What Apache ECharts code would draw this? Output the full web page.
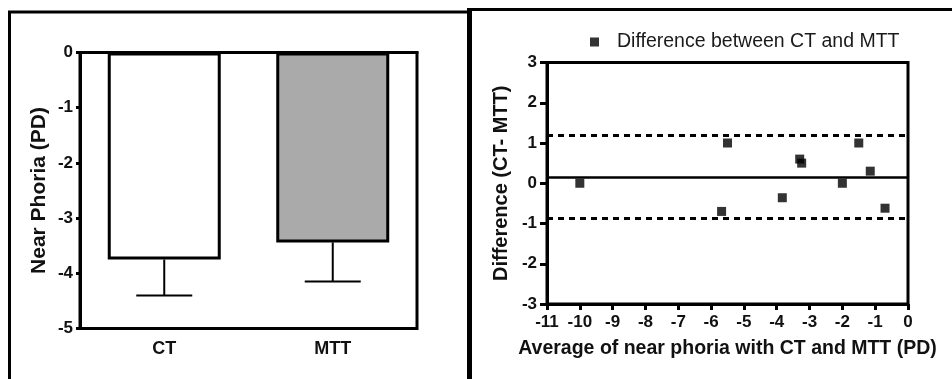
<!DOCTYPE html>
<html>
<head>
<meta charset="utf-8">
<style>
  html, body { margin: 0; padding: 0; background: #fff; }
  #chart { width: 952px; height: 379px; }
</style>
<script src="https://cdn.jsdelivr.net/npm/echarts@6/dist/echarts.min.js"></script>
</head>
<body>
<div id="chart"></div>
<script>
// Near phoria by method (mean ± SD)
var methods = ['CT', 'MTT'];
var meanPhoria = [-3.75, -3.44];
var sdPhoria = [0.65, 0.71];

// Bland–Altman: average of the two methods vs. their difference
var avgPhoria = [-10.0, -5.5, -5.68, -3.83, -3.3, -3.24, -2.0, -1.5, -1.15, -0.7];
var diffPhoria = [0.0, 1.0, -0.7, -0.36, 0.6, 0.5, 0.0, 1.0, 0.3, -0.62];
var biasMean = 0.16;
var limitUpper = 1.20;
var limitLower = -0.88;

var xTicksDiff = { min: -11, max: 0, interval: 1 };
var yTicksDiff = { min: -3, max: 3, interval: 1 };
var yTicksPhoria = { min: -5, max: 0, interval: 1 };

var legendName = 'Difference between CT and MTT';

var FONT = '"Liberation Sans", Arial, sans-serif';
var INK = '#000';

var scatterData = avgPhoria.map(function (x, i) { return [x, diffPhoria[i]]; });
var errorData = methods.map(function (m, i) { return [i, meanPhoria[i], meanPhoria[i] - sdPhoria[i]]; });

var tickLabel = { color: '#111', fontFamily: FONT, fontWeight: 'bold', fontSize: 17 };

var chart = echarts.init(document.getElementById('chart'), null, { renderer: 'canvas' });

chart.setOption({
  animation: false,
  backgroundColor: '#fff',
  textStyle: { fontFamily: FONT },
  legend: {
    data: [legendName],
    left: 585,
    top: 27,
    itemWidth: 35,
    itemHeight: 9,
    icon: 'path://M0,0H1V1H0Z',
    symbolKeepAspect: true,
    textStyle: { fontFamily: FONT, fontSize: 19.5, color: '#1a1a1a' },
    selectedMode: false
  },
  grid: [
    { left: 80, top: 52.5, right: 535, bottom: 50.5, show: true, borderColor: INK, borderWidth: 3, backgroundColor: 'transparent' },
    { left: 547, top: 62.5, right: 44, bottom: 75, show: true, borderColor: INK, borderWidth: 3, backgroundColor: 'transparent' }
  ],
  xAxis: [
    {
      gridIndex: 0,
      type: 'category',
      data: methods,
      axisLine: { lineStyle: { color: INK, width: 3 } },
      axisTick: { alignWithLabel: true, length: 9, lineStyle: { color: INK, width: 3 } },
      axisLabel: Object.assign({}, tickLabel, { fontSize: 18, margin: 12 }),
      splitLine: { show: false }
    },
    {
      gridIndex: 1,
      type: 'value',
      min: xTicksDiff.min, max: xTicksDiff.max, interval: xTicksDiff.interval,
      name: 'Average of near phoria with CT and MTT (PD)',
      nameLocation: 'middle',
      nameGap: 35,
      nameTextStyle: { color: '#111', fontFamily: FONT, fontWeight: 'bold', fontSize: 19.5 },
      axisLine: { onZero: false, lineStyle: { color: INK, width: 3 } },
      axisTick: { length: 6, lineStyle: { color: INK, width: 3 } },
      axisLabel: Object.assign({}, tickLabel, { margin: 10 }),
      splitLine: { show: false }
    }
  ],
  yAxis: [
    {
      gridIndex: 0,
      type: 'value',
      min: yTicksPhoria.min, max: yTicksPhoria.max, interval: yTicksPhoria.interval,
      name: 'Near Phoria (PD)',
      nameLocation: 'middle',
      nameGap: 30,
      nameRotate: 90,
      nameTextStyle: { color: '#111', fontFamily: FONT, fontWeight: 'bold', fontSize: 21 },
      axisLine: { show: true, onZero: false, lineStyle: { color: INK, width: 3 } },
      axisTick: { show: true, length: 4, lineStyle: { color: INK, width: 3 } },
      axisLabel: Object.assign({}, tickLabel, { margin: 7 }),
      splitLine: { show: false }
    },
    {
      gridIndex: 1,
      type: 'value',
      min: yTicksDiff.min, max: yTicksDiff.max, interval: yTicksDiff.interval,
      name: 'Difference (CT- MTT)',
      nameLocation: 'middle',
      nameGap: 36,
      nameRotate: 90,
      nameTextStyle: { color: '#111', fontFamily: FONT, fontWeight: 'bold', fontSize: 20 },
      axisLine: { show: true, onZero: false, lineStyle: { color: INK, width: 3 } },
      axisTick: { show: true, length: 7, lineStyle: { color: INK, width: 3 } },
      axisLabel: Object.assign({}, tickLabel, { margin: 10 }),
      splitLine: { show: false }
    }
  ],
  series: [
    {
      type: 'bar',
      xAxisIndex: 0,
      yAxisIndex: 0,
      barWidth: 113,
      data: meanPhoria.map(function (v, i) {
        return { value: v, itemStyle: { color: i === 0 ? '#ffffff' : '#aaaaaa' } };
      }),
      itemStyle: { borderColor: INK, borderWidth: 3 },
      silent: true
    },
    {
      type: 'custom',
      xAxisIndex: 0,
      yAxisIndex: 0,
      data: errorData,
      silent: true,
      z: 1,
      renderItem: function (params, api) {
        var top = api.coord([api.value(0), api.value(1)]);
        var bot = api.coord([api.value(0), api.value(2)]);
        var half = 28;
        var style = { stroke: INK, lineWidth: 2 };
        return {
          type: 'group',
          children: [
            { type: 'line', shape: { x1: top[0], y1: top[1], x2: bot[0], y2: bot[1] }, style: style },
            { type: 'line', shape: { x1: bot[0] - half, y1: bot[1], x2: bot[0] + half, y2: bot[1] }, style: style }
          ]
        };
      }
    },
    {
      name: legendName,
      type: 'scatter',
      xAxisIndex: 1,
      yAxisIndex: 1,
      symbol: 'rect',
      symbolSize: 9,
      itemStyle: { color: '#000' },
      data: scatterData,
      z: 5,
      markLine: {
        silent: true,
        symbol: 'none',
        label: { show: false },
        data: [
          { yAxis: biasMean, lineStyle: { color: INK, width: 2.5, type: 'solid' } },
          { yAxis: limitUpper, lineStyle: { color: INK, width: 3, type: [6, 5] } },
          { yAxis: limitLower, lineStyle: { color: INK, width: 3, type: [6, 5] } }
        ]
      }
    }
  ],
  graphic: [
    // panel frames
    { type: 'line', shape: { x1: 9.5, y1: 11, x2: 9.5, y2: 379 }, style: { stroke: '#000', lineWidth: 3 } },
    { type: 'line', shape: { x1: 8, y1: 12, x2: 470, y2: 12 }, style: { stroke: '#000', lineWidth: 3 } },
    { type: 'line', shape: { x1: 469.5, y1: 8, x2: 469.5, y2: 379 }, style: { stroke: '#000', lineWidth: 5 } },
    { type: 'line', shape: { x1: 467, y1: 9.5, x2: 952, y2: 9.5 }, style: { stroke: '#000', lineWidth: 3 } }
  ]
});
</script>
</body>
</html>
